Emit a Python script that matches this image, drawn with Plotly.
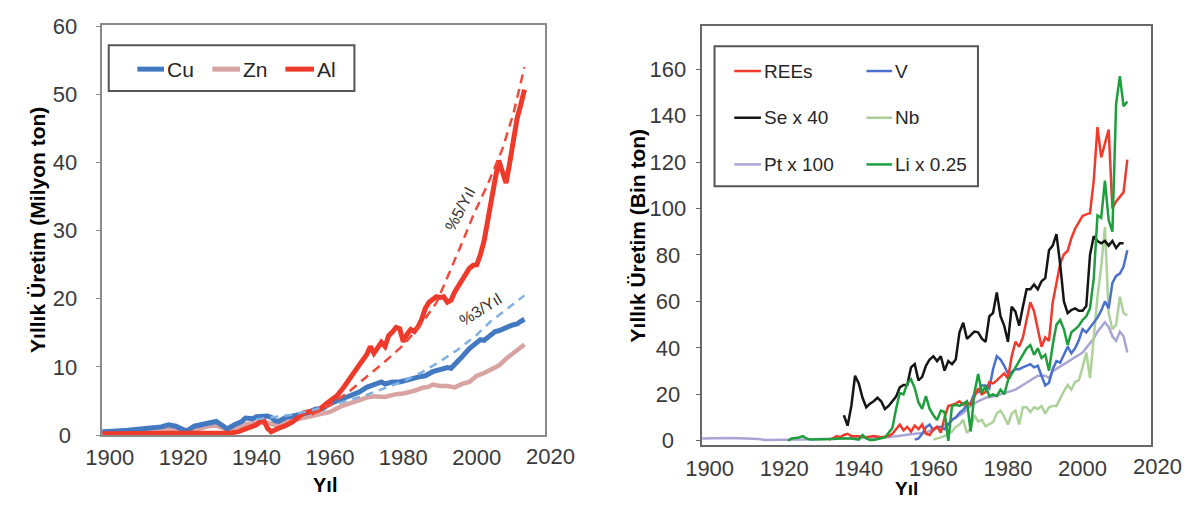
import plotly.graph_objects as go

W, H = 1196, 510
FONT = "Liberation Sans, Arial, sans-serif"
TXT = "#3a3a3a"

# ---------------- left panel: major metals (million t) ----------------
cu_years = [1898, 1900, 1902, 1905, 1907, 1910, 1912, 1914, 1916, 1918, 1920, 1921, 1923,
            1925, 1927, 1929, 1931, 1932, 1934, 1936, 1937, 1939, 1940, 1942, 1943, 1944,
            1945, 1946, 1948, 1950, 1952, 1954, 1956, 1958, 1960, 1962, 1964, 1966, 1968,
            1970, 1972, 1974, 1975, 1977, 1979, 1980, 1982, 1984, 1986, 1988, 1990, 1992,
            1993, 1994, 1996, 1998, 2000, 2001, 2002, 2003, 2004, 2005, 2006, 2007, 2008,
            2009, 2010, 2011, 2012, 2013]
cu_vals = [0.5, 0.5, 0.6, 0.7, 0.8, 0.9, 1.0, 1.2, 1.5, 1.3, 0.8, 0.6, 1.3,
           1.5, 1.7, 2.0, 1.3, 0.9, 1.5, 2.0, 2.5, 2.4, 2.7, 2.8, 2.8, 2.6,
           2.1, 2.0, 2.6, 2.8, 3.1, 3.3, 3.8, 3.9, 4.6, 5.0, 5.4, 5.9, 6.3,
           7.0, 7.4, 7.8, 7.5, 7.8, 7.8, 7.9, 8.2, 8.5, 8.7, 9.3, 9.6, 9.9,
           9.8, 10.3, 11.5, 12.7, 13.6, 14.0, 13.9, 14.3, 14.9, 15.2, 15.3, 15.6, 15.8,
           16.0, 16.2, 16.3, 16.7, 17.0]

zn_years = [1898, 1905, 1910, 1915, 1920, 1925, 1927, 1929, 1932, 1935, 1937, 1940, 1943,
            1945, 1947, 1950, 1955, 1960, 1963, 1965, 1968, 1970, 1972, 1975, 1978, 1980,
            1983, 1985, 1987, 1988, 1990, 1992, 1994, 1996, 1998, 2000, 2002, 2004, 2006,
            2008, 2010, 2012, 2013]
zn_vals = [0.4, 0.6, 0.8, 0.9, 0.7, 1.0, 1.3, 1.4, 0.8, 1.2, 1.6, 1.8, 1.8,
           1.5, 1.8, 2.2, 2.8, 3.4, 4.2, 4.6, 5.2, 5.5, 5.7, 5.6, 6.0, 6.1,
           6.5, 6.9, 7.1, 7.4, 7.2, 7.2, 7.0, 7.5, 7.8, 8.7, 9.1, 9.6, 10.2,
           11.2, 12.1, 12.9, 13.3]

al_years = [1898, 1905, 1910, 1915, 1920, 1925, 1930, 1933, 1935, 1937, 1939, 1940, 1941,
            1942, 1943, 1944, 1946, 1948, 1950, 1952, 1953, 1955, 1957, 1959, 1960, 1962,
            1964, 1966, 1968, 1970, 1971, 1972, 1973, 1974, 1975, 1976, 1977, 1978, 1979,
            1980, 1981, 1982, 1983, 1984, 1985, 1986, 1987, 1988, 1989, 1990, 1991, 1992,
            1993, 1994, 1995, 1996, 1997, 1998, 1999, 2000, 2001, 2002, 2003, 2004, 2005,
            2006, 2007, 2008, 2009, 2010, 2011, 2012, 2013]
al_vals = [0.2, 0.2, 0.2, 0.2, 0.2, 0.2, 0.3, 0.3, 0.5, 0.9, 1.2, 1.5, 2.0,
           2.1, 1.0, 0.5, 1.0, 1.4, 2.0, 2.8, 3.3, 3.5, 3.7, 4.6, 5.0, 5.8,
           7.2, 8.6, 10.3, 11.8, 13.0, 12.0, 12.8, 13.6, 13.0, 14.6, 15.1, 15.8, 15.6,
           13.7, 14.8, 15.5, 15.2, 15.9, 17.0, 18.6, 19.5, 20.0, 20.3, 20.2, 20.3, 19.5,
           19.8, 21.0, 21.8, 22.8, 23.6, 24.5, 24.9, 25.0, 26.5, 28.5, 31.5, 35.0, 37.5,
           40.3, 38.5, 37.0, 40.0, 43.5, 46.5, 48.5, 50.7]

# growth-rate guide lines
al_trend_years = [1955, 1960, 1965, 1970, 1975, 1980, 1985, 1989, 1993, 1996, 1999, 2003,
                  2007, 2010, 2013]
al_trend_vals = [3.0, 4.4, 6.3, 8.5, 10.8, 13.2, 16.4, 19.4, 24.3, 28.2, 32.2, 36.8,
                 42.0, 47.2, 54.0]
cu_trend_years = [1940, 1950, 1960, 1970, 1980, 1985, 1990, 1995, 2000, 2004, 2007, 2010, 2013]
cu_trend_vals = [2.3, 3.0, 4.3, 5.9, 7.9, 9.2, 10.8, 12.6, 14.7, 16.8, 18.0, 19.2, 20.5]

# ---------------- right panel: minor metals (thousand t) ----------------
ree_years = [1932, 1933, 1934, 1935, 1936, 1937, 1938, 1940, 1942, 1944, 1946, 1948, 1949,
             1950, 1951, 1952, 1953, 1954, 1955, 1956, 1957, 1958, 1959, 1960, 1961, 1962,
             1963, 1964, 1965, 1966, 1967, 1968, 1969, 1970, 1971, 1972, 1973, 1974, 1975,
             1976, 1977, 1978, 1979, 1980, 1981, 1982, 1983, 1984, 1985, 1986, 1987, 1988,
             1989, 1990, 1991, 1992, 1993, 1994, 1995, 1996, 1997, 1998, 1999, 2000, 2001,
             2002, 2003, 2004, 2005, 2006, 2007, 2008, 2009, 2010, 2011, 2012]
ree_vals = [0.5, 1.0, 2.0, 1.5, 2.5, 3.0, 2.0, 2.0, 1.5, 2.0, 1.5, 2.0, 3.0,
            5.0, 7.0, 4.5, 6.0, 4.0, 6.5, 5.0, 7.0, 3.0, 2.5, 5.0, 6.0, 3.5,
            10.0, 15.0, 15.5, 16.0, 17.0, 15.5, 16.5, 15.5, 19.0, 22.5, 20.0, 21.0, 25.3,
            24.7, 26.0, 27.5, 29.0, 26.8, 36.4, 42.6, 40.5, 44.5, 51.4, 59.6, 55.7, 48.6,
            40.5, 44.5, 43.0, 59.6, 67.9, 76.2, 80.3, 81.7, 87.2, 91.3, 94.0, 96.8, 97.5,
            98.0, 112.0, 135.0, 122.0, 128.0, 134.0, 100.0, 103.0, 105.0, 107.0, 121.0]

v_years = list(range(1955, 2013))
v_vals = [0.5, 1.0, 3.0, 5.8, 7.0, 4.5, 6.0, 5.8, 5.0, 7.0, 9.2, 10.0, 12.0, 13.3,
          15.5, 16.3, 20.4, 21.0, 23.8, 23.8, 22.5, 30.8, 36.4, 35.0, 32.3, 28.9, 29.6,
          30.8, 30.8, 31.6, 32.3, 33.0, 31.6, 32.3, 28.0, 23.8, 25.0, 30.8, 34.3, 33.6,
          37.0, 40.5, 37.7, 39.8, 43.3, 48.0, 46.6, 48.6, 50.7, 53.0, 56.0, 60.0, 57.0,
          68.0, 71.0, 72.0, 75.0, 82.0]

se_years = list(range(1936, 2013))
se_vals = [11.0, 6.5, 15.0, 28.0, 24.7, 18.5, 14.4, 16.0, 17.0, 18.5, 17.0, 13.7, 15.0,
           17.0, 19.0, 23.0, 24.0, 24.0, 31.6, 33.0, 26.0, 27.5, 32.3, 35.0, 36.4, 34.3,
           36.4, 30.2, 34.3, 33.0, 35.0, 46.7, 50.8, 43.9, 45.3, 47.0, 46.7, 44.0, 42.6,
           53.6, 55.0, 63.9, 53.6, 49.5, 42.6, 57.7, 55.6, 49.5, 57.7, 65.2, 65.2, 67.3,
           65.2, 68.7, 70.0, 82.0, 84.0, 89.0, 76.0, 60.0, 55.0, 56.3, 57.0, 56.0, 56.0,
           58.0, 80.0, 88.0, 86.0, 85.0, 86.0, 84.0, 86.0, 83.0, 85.0, 85.0]

nb_years = list(range(1960, 2013))
nb_vals = [0.5, 1.0, 1.5, 2.0, 3.0, 4.0, 6.0, 7.0, 9.0, 3.4, 5.5, 11.0, 8.2, 9.0,
           6.2, 7.0, 8.0, 11.7, 13.0, 10.3, 7.0, 11.7, 13.0, 7.0, 14.4, 14.4, 12.4,
           14.4, 13.7, 15.0, 11.7, 14.4, 15.0, 15.0, 18.5, 21.3, 24.0, 22.0, 25.4, 26.0,
           31.6, 38.0, 27.0, 45.0, 62.0, 75.0, 92.0, 55.0, 48.0, 50.0, 62.0, 55.0, 54.0]

pt_years = [1898, 1905, 1910, 1913, 1915, 1920, 1925, 1930, 1935, 1940, 1945, 1948, 1950,
            1952, 1955, 1958, 1960, 1962, 1964, 1966, 1968, 1970, 1972, 1974, 1976, 1978,
            1980, 1982, 1984, 1986, 1988, 1990, 1991, 1992, 1994, 1996, 1998, 2000, 2001,
            2002, 2003, 2004, 2005, 2006, 2007, 2008, 2009, 2010, 2011, 2012]
pt_vals = [1.0, 1.2, 1.0, 0.8, 0.3, 0.3, 0.5, 0.8, 1.0, 1.0, 1.2, 1.5, 2.0,
           2.5, 3.0, 3.5, 5.0, 6.0, 7.5, 10.0, 12.0, 15.0, 17.0, 18.5, 19.0, 20.0,
           21.0, 22.0, 24.0, 26.0, 28.0, 28.0, 27.0, 30.0, 32.0, 34.0, 36.0, 38.0, 40.0,
           42.0, 44.0, 47.0, 49.0, 51.0, 49.0, 45.0, 43.0, 47.0, 45.0, 38.0]

li_years = [1921, 1922, 1923, 1924, 1925, 1926, 1927, 1930, 1933, 1935, 1938, 1940, 1941,
            1942, 1943, 1944, 1946, 1947, 1948] + list(range(1949, 2013))
li_vals = [0.0, 1.0, 1.2, 1.4, 2.0, 1.0, 0.5, 0.5, 0.8, 1.0, 1.0, 0.5, 2.5,
           1.0, 0.3, 0.3, 1.0, 1.5, 3.4,
           5.5, 13.7, 20.6, 20.0, 24.7, 26.5, 22.7, 16.5, 13.7, 19.2, 13.7, 11.0, 8.9,
           13.0, 12.4, 0.0, 15.0, 15.5, 15.0, 16.0, 17.0, 4.0, 20.6, 28.8, 20.6, 23.6,
           19.2, 20.0, 19.2, 22.0, 20.0, 26.0, 28.8, 31.6, 34.3, 37.0, 39.8, 41.2, 37.0,
           39.8, 35.7, 37.0, 30.2, 41.2, 50.0, 52.0, 48.0, 41.2, 46.7, 48.0, 49.5, 52.0,
           53.6, 57.0, 70.0, 97.0, 96.0, 112.0, 95.0, 90.0, 145.0, 157.0, 144.0, 146.0]

left_xticks = [1900, 1920, 1940, 1960, 1980, 2000, 2020]
left_yticks = [0, 10, 20, 30, 40, 50, 60]
right_xticks = [1900, 1920, 1940, 1960, 1980, 2000, 2020]
right_yticks = [0, 20, 40, 60, 80, 100, 120, 140, 160]

# ---------------- panel geometry (pixels) ----------------
L_BOX = dict(x0=86.7, x1=536.0, top=15.0, bottom=445.0)
R_BOX = dict(x0=695.0, x1=1150.0, top=16.0, bottom=455.0)
L_XRANGE = [1897.77, 2018.55]
L_YRANGE = [0.0, 60.14]
R_XRANGE = [1897.88, 2018.25]
R_YRANGE = [-1.64, 178.46]


def dom_x(box):
    return [box["x0"] / W, box["x1"] / W]


def dom_y(box):
    return [1 - box["bottom"] / H, 1 - box["top"] / H]


def to_paper(v, rng, dom):
    return dom[0] + (v - rng[0]) / (rng[1] - rng[0]) * (dom[1] - dom[0])


def centred(vals):
    # pad shorter labels with half-digit spaces so the column is centred
    width = max(len(str(v)) for v in vals)
    return [str(v) + "\u2008" * (width - len(str(v))) for v in vals]


fig = go.Figure()

COL_CU, COL_ZN, COL_AL = "#4279c0", "#d8a3a3", "#ee3a2a"

fig.add_trace(go.Scatter(x=zn_years, y=zn_vals, mode="lines", xaxis="x", yaxis="y",
                         line=dict(color=COL_ZN, width=4.5), name="Zn"))
fig.add_trace(go.Scatter(x=cu_years, y=cu_vals, mode="lines", xaxis="x", yaxis="y",
                         line=dict(color=COL_CU, width=5), name="Cu"))
fig.add_trace(go.Scatter(x=al_years, y=al_vals, mode="lines", xaxis="x", yaxis="y",
                         line=dict(color=COL_AL, width=5), name="Al"))
fig.add_trace(go.Scatter(x=cu_trend_years, y=cu_trend_vals, mode="lines", xaxis="x", yaxis="y",
                         line=dict(color="#7fb0e2", width=2.5, dash="8px,6px"), name="3%"))
fig.add_trace(go.Scatter(x=al_trend_years, y=al_trend_vals, mode="lines", xaxis="x", yaxis="y",
                         line=dict(color="#ef4a3a", width=2.5, dash="9px,6px"), name="5%"))

COL_REE, COL_V, COL_SE = "#f2392b", "#4a6fcc", "#151515"
COL_NB, COL_PT, COL_LI = "#add19a", "#a9a6d6", "#1f9e3e"

right_series = [
    ("Pt x 100", pt_years, pt_vals, COL_PT),
    ("Nb", nb_years, nb_vals, COL_NB),
    ("V", v_years, v_vals, COL_V),
    ("REEs", ree_years, ree_vals, COL_REE),
    ("Se x 40", se_years, se_vals, COL_SE),
    ("Li x 0.25", li_years, li_vals, COL_LI),
]
for name, xs, ys, col in right_series:
    fig.add_trace(go.Scatter(x=xs, y=ys, mode="lines", xaxis="x2", yaxis="y2",
                             line=dict(color=col, width=2.5), name=name))

axis_common = dict(showgrid=False, zeroline=False, showline=True, mirror=True, linewidth=2,
                   tickfont=dict(family=FONT, size=22, color=TXT))
L_FRAME, R_FRAME = "#8a8a8a", "#686868"

fig.update_layout(
    width=W, height=H,
    margin=dict(l=0, r=0, t=0, b=0),
    paper_bgcolor="white", plot_bgcolor="white",
    showlegend=False,
    xaxis=dict(axis_common, domain=dom_x(L_BOX), range=L_XRANGE, anchor="y",
               linecolor=L_FRAME, tickvals=left_xticks, ticks="", ticklabelstandoff=2),
    yaxis=dict(axis_common, domain=dom_y(L_BOX), range=L_YRANGE, anchor="x",
               linecolor=L_FRAME, tickvals=left_yticks, ticktext=centred(left_yticks),
               ticks="outside", ticklen=4, tickcolor=L_FRAME, ticklabelstandoff=14),
    xaxis2=dict(axis_common, domain=dom_x(R_BOX), range=R_XRANGE, anchor="y2",
                linecolor=R_FRAME, tickvals=right_xticks, ticks="", ticklabelstandoff=3),
    yaxis2=dict(axis_common, domain=dom_y(R_BOX), range=R_YRANGE, anchor="x2",
                linecolor=R_FRAME, tickvals=right_yticks, ticktext=centred(right_yticks),
                ticks="outside", ticklen=4, tickcolor=R_FRAME, ticklabelstandoff=5),
)

annotations = []
shapes = []

# last x tick sits just past the frame, so it is written separately
for rng, box, shift in ((L_XRANGE, L_BOX, -21), (R_XRANGE, R_BOX, -22)):
    annotations.append(dict(
        text=str(left_xticks[-1]), xref="paper", yref="paper",
        x=to_paper(left_xticks[-1], rng, dom_x(box)), y=dom_y(box)[0],
        xanchor="center", yanchor="middle", yshift=shift, showarrow=False,
        font=dict(family=FONT, size=22, color=TXT)))

# axis titles
title_font = dict(family=FONT, size=21, color="#000000")
annotations += [
    dict(text="<b>Yıl</b>", xref="paper", yref="paper", x=313 / W, y=1 - 497 / H,
         showarrow=False, xanchor="center", yanchor="middle",
         font=dict(family=FONT, size=20, color="#000000")),
    dict(text="<b>Yıl</b>", xref="paper", yref="paper", x=903 / W, y=1 - 501 / H,
         showarrow=False, xanchor="center", yanchor="middle",
         font=dict(family=FONT, size=19, color="#000000")),
    dict(text="<b>Yıllık Üretim (Milyon ton)</b>", xref="paper", yref="paper",
         x=21 / W, y=1 - 230 / H, textangle=-90, showarrow=False,
         xanchor="center", yanchor="middle", font=title_font),
    dict(text="<b>Yıllık Üretim (Bin ton)</b>", xref="paper", yref="paper",
         x=630 / W, y=1 - 236 / H, textangle=-90, showarrow=False,
         xanchor="center", yanchor="middle", font=title_font),
]

# growth-rate labels
annotations += [
    dict(text="%5/Yıl", xref="x", yref="y", x=1995.4, y=33.1, textangle=-62,
         showarrow=False, font=dict(family=FONT, size=16, color="#333333")),
    dict(text="%3/Yıl", xref="x", yref="y", x=2001.0, y=18.5, textangle=-32,
         showarrow=False, font=dict(family=FONT, size=16, color="#333333")),
]


def px_shape_line(x0, x1, y, color, width):
    return dict(type="line", xref="paper", yref="paper", x0=x0 / W, x1=x1 / W,
                y0=1 - y / H, y1=1 - y / H, line=dict(color=color, width=width))


def px_rect(x0, y0, x1, y1):
    return dict(type="rect", xref="paper", yref="paper", x0=x0 / W, x1=x1 / W,
                y0=1 - y1 / H, y1=1 - y0 / H, line=dict(color="#555555", width=2),
                fillcolor="white", layer="above")


# legend, left panel
shapes.append(px_rect(94, 36, 343, 84))
left_legend = [("Cu", COL_CU, 123, 150), ("Zn", COL_ZN, 199, 227), ("Al", COL_AL, 273, 302)]
for name, col, a, b in left_legend:
    shapes.append(px_shape_line(a, b, 61, col, 5))
    annotations.append(dict(text=name, xref="paper", yref="paper", x=(b + 1) / W, y=1 - 61 / H,
                            xanchor="left", yanchor="middle", showarrow=False,
                            font=dict(family=FONT, size=21, color="#262626")))

# legend, right panel
shapes.append(px_rect(708, 37, 975, 184))
leg_cols = {"REEs": (728, 755, 63), "Se x 40": (728, 755, 112), "Pt x 100": (728, 755, 161),
            "V": (862, 888, 63), "Nb": (862, 888, 112), "Li x 0.25": (862, 888, 161)}
for name, xs, ys, col in right_series:
    a, b, y = leg_cols[name]
    shapes.append(px_shape_line(a, b, y, col, 2.5))
    annotations.append(dict(text=name, xref="paper", yref="paper", x=(b + 1) / W, y=1 - y / H,
                            xanchor="left", yanchor="middle", showarrow=False,
                            font=dict(family=FONT, size=19, color="#262626")))

fig.update_layout(annotations=annotations, shapes=shapes)
fig.write_html("out.html")
